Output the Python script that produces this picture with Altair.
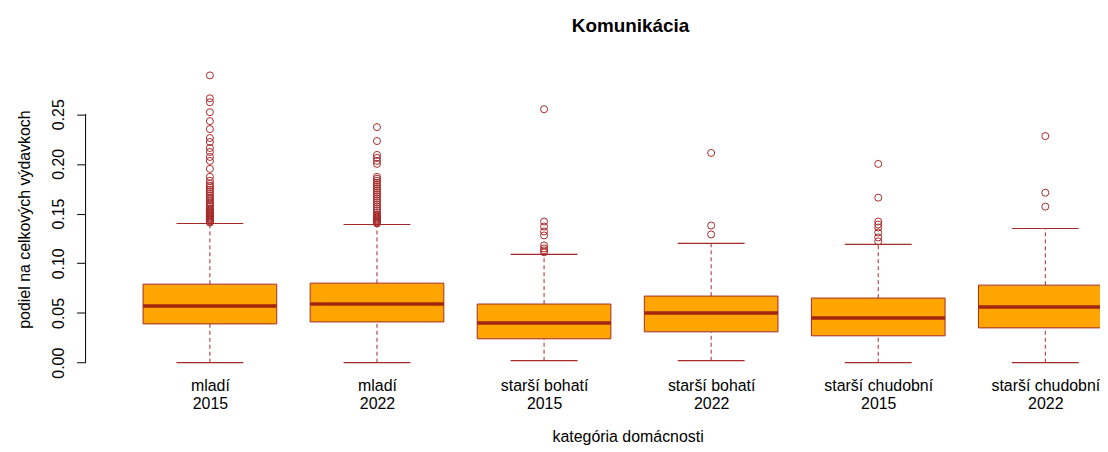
import json
import altair as alt
import pandas as pd

# ---- data ----
groups = ["mladí", "mladí", "starší bohatí", "starší bohatí", "starší chudobní", "starší chudobní"]
years = ["2015", "2022", "2015", "2022", "2015", "2022"]
lower_whisker = [0.000, 0.000, 0.002, 0.002, 0.000, 0.000]
q1 = [0.039, 0.041, 0.024, 0.031, 0.027, 0.035]
medians = [0.057, 0.059, 0.040, 0.050, 0.045, 0.056]
q3 = [0.079, 0.080, 0.059, 0.067, 0.065, 0.078]
upper_whisker = [0.140, 0.139, 0.109, 0.120, 0.119, 0.135]
outliers = [
    [0.289, 0.266, 0.262, 0.252, 0.243, 0.235, 0.226, 0.222, 0.216, 0.212, 0.207,
     0.203, 0.195, 0.187, 0.183, 0.180, 0.178, 0.176, 0.174, 0.172, 0.170, 0.168,
     0.166, 0.165, 0.163, 0.161, 0.160, 0.158, 0.157, 0.155, 0.154, 0.153, 0.152,
     0.151, 0.150, 0.149, 0.148, 0.147, 0.146, 0.145, 0.144, 0.143, 0.142, 0.141],
    [0.237, 0.223, 0.209, 0.206, 0.203, 0.200, 0.187, 0.185, 0.183, 0.181, 0.179,
     0.177, 0.175, 0.173, 0.171, 0.169, 0.167, 0.165, 0.163, 0.161, 0.159, 0.157,
     0.155, 0.153, 0.151, 0.149, 0.148, 0.147, 0.146, 0.145, 0.144, 0.143, 0.142,
     0.141, 0.140],
    [0.255, 0.142, 0.137, 0.132, 0.128, 0.118, 0.115, 0.113, 0.111],
    [0.211, 0.138, 0.129],
    [0.200, 0.166, 0.142, 0.139, 0.136, 0.131, 0.126, 0.122],
    [0.228, 0.171, 0.157],
]
y_ticks = [0.00, 0.05, 0.10, 0.15, 0.20, 0.25]

# ---- tables ----
pos = list(range(1, len(groups) + 1))
boxes = pd.DataFrame({
    "pos": pos, "lo": lower_whisker, "q1": q1, "med": medians,
    "q3": q3, "hi": upper_whisker,
})
out_df = pd.DataFrame(
    [{"pos": p, "value": v} for p, vals in zip(pos, outliers) for v in vals]
)
label_lines = [[g, y] for g, y in zip(groups, years)]

BROWN = "#A52A2A"
ORANGE = "#FFA500"
FONT = "Liberation Sans"

xs = alt.Scale(domain=[0.2559, 6.3273], nice=False, zero=False)
ys = alt.Scale(domain=[-0.0116, 0.3006], nice=False, zero=False)

x_axis = alt.Axis(
    values=pos,
    labelExpr=json.dumps(label_lines, ensure_ascii=False) + "[datum.value - 1]",
    title="kategória domácnosti",
    domain=False, ticks=False, tickSize=0, grid=False,
    labelFlush=False, labelOverlap=False,
    labelFont=FONT, labelFontSize=16, labelColor="black",
    labelBaseline="alphabetic", labelPadding=16, labelLineHeight=19,
    titleFont=FONT, titleFontSize=16, titleFontWeight="normal", titleColor="black",
    titleX=545, titleY=71, titleAlign="center", titleBaseline="bottom",
)
y_axis = alt.Axis(
    values=y_ticks, format=".2f",
    domain=False, grid=False,
    tickSize=9, tickColor="black", tickWidth=1,
    labelAngle=270, labelAlign="center", labelBaseline="alphabetic",
    labelPadding=13, labelOverlap=False, labelFlush=False,
    labelFont=FONT, labelFontSize=16, labelColor="black",
    title="podiel na celkových výdavkoch",
    titleFont=FONT, titleFontSize=16, titleFontWeight="normal", titleColor="black",
    titleAngle=270, titleX=-61, titleY=156, titleAlign="center", titleBaseline="middle",
)


def X(field):
    return alt.X(field, scale=xs, axis=x_axis)


def Y(field):
    return alt.Y(field, scale=ys, axis=y_axis)


base = alt.Chart(boxes).transform_calculate(
    blo="datum.pos - 0.4", bhi="datum.pos + 0.4",
    clo="datum.pos - 0.2", chi="datum.pos + 0.2",
)

whisk_up = base.mark_rule(color=BROWN, strokeWidth=1, strokeDash=[4, 3]).encode(
    x=X("pos:Q"), y=Y("q3:Q"), y2="hi:Q",
)
whisk_lo = base.mark_rule(color=BROWN, strokeWidth=1, strokeDash=[4, 3]).encode(
    x=X("pos:Q"), y=Y("lo:Q"), y2="q1:Q",
)
cap_up = base.mark_rule(color=BROWN, strokeWidth=1.2, clip=True).encode(
    x=X("clo:Q"), x2="chi:Q", y=Y("hi:Q"),
)
cap_lo = base.mark_rule(color=BROWN, strokeWidth=1.2, clip=True).encode(
    x=X("clo:Q"), x2="chi:Q", y=Y("lo:Q"),
)
box = base.mark_rect(fill=ORANGE, stroke=BROWN, strokeWidth=1, clip=True).encode(
    x=X("blo:Q"), x2="bhi:Q", y=Y("q1:Q"), y2="q3:Q",
)
median = base.mark_rule(color="#A3260F", strokeWidth=3.5, clip=True).encode(
    x=X("blo:Q"), x2="bhi:Q", y=Y("med:Q"),
)
points = alt.Chart(out_df).mark_point(
    shape="circle", filled=False, color=BROWN, size=50, strokeWidth=1, opacity=1
).encode(
    x=X("pos:Q"), y=Y("value:Q"),
)
y_line = alt.Chart(pd.DataFrame({"a": [0]})).mark_rule(color="black", strokeWidth=1).encode(
    x=alt.value(0),
    y=alt.Y(datum=y_ticks[0], scale=ys, axis=y_axis),
    y2=alt.datum(y_ticks[-1]),
)

chart = alt.layer(
    whisk_up, whisk_lo, cap_up, cap_lo, box, median, points, y_line
).properties(
    width=1020, height=312,
    autosize=alt.AutoSizeParams(type="none"),
    padding={"left": 78, "top": 55, "right": 0, "bottom": 71},
    title=alt.TitleParams(
        "Komunikácia", font=FONT, fontSize=19, fontWeight="bold", color="black",
        anchor="middle", dx=38, offset=28, frame="group",
    ),
    background="white",
).configure_view(stroke=None)

chart.save("out.html", embed_options={"renderer": "svg", "actions": False})
